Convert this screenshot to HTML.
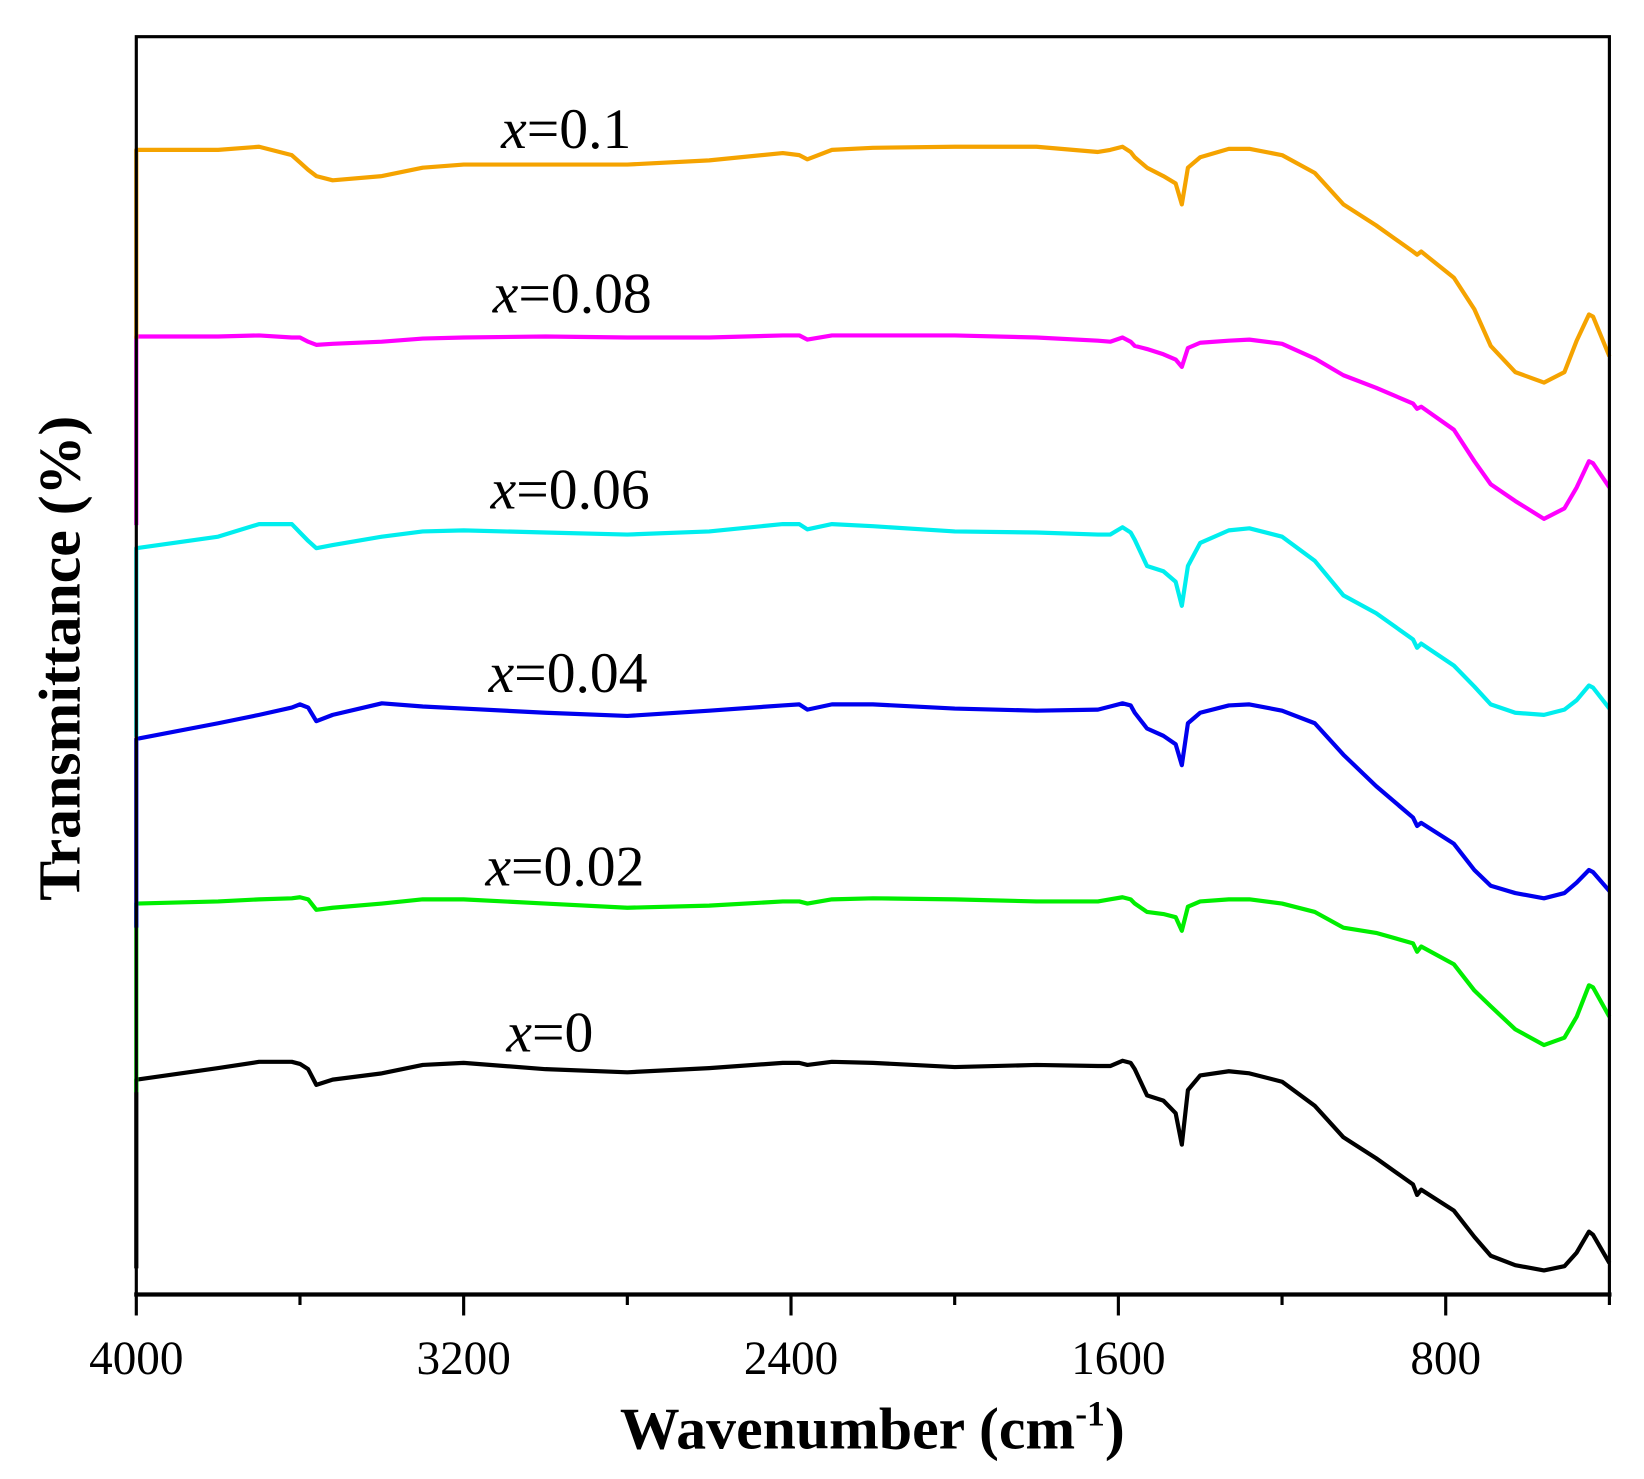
<!DOCTYPE html>
<html><head><meta charset="utf-8"><style>
html,body{margin:0;padding:0;background:#fff;}
svg{display:block;}
text{font-family:"Liberation Serif",serif;}
</style></head>
<body>
<svg id="chart" width="1644" height="1479" viewBox="0 0 1568 1411" preserveAspectRatio="none" xmlns="http://www.w3.org/2000/svg">
<g id="series"></g>
<g id="labels"></g>
<rect x="130" y="35" width="1405" height="1200" fill="none" stroke="#000" stroke-width="3"/>
<line x1="128" y1="1235" x2="1537" y2="1235" stroke="#000" stroke-width="4"/>
<g id="xticks"></g>
<text x="832" y="1382" text-anchor="middle" font-size="57" font-weight="bold">Wavenumber (cm<tspan font-size="34" dy="-22">-1</tspan><tspan dy="22">)</tspan></text>
<text transform="translate(76,628) rotate(-90)" text-anchor="middle" font-size="57" font-weight="bold">Transmittance (%)</text>
</svg>
<script>
const wavenumbers = [4000,3800,3700,3620,3600,3580,3560,3520,3400,3300,3200,3000,2800,2600,2420,2380,2360,2300,2200,2000,1800,1650,1620,1590,1570,1560,1530,1490,1460,1445,1430,1400,1330,1280,1200,1120,1050,970,880,870,860,780,730,690,630,560,510,480,450,440,400];
const seriesX0 = [205,216,222,222,220,215,200,205,211,219,221,215,212,216,221,221,219,222,221,217,219,218,218,223,221,215,190,185,173,143,195,209,213,211,203,180,150,130,105,95,100,80,55,37,28,23,27,40,60,57,30];
const seriesX002 = [373,375,377,378,379,377,367,369,373,377,377,373,369,371,375,375,373,377,378,377,375,375,377,379,377,373,365,363,360,347,370,375,377,377,373,365,350,345,335,327,332,315,290,275,253,238,245,265,295,293,265];
const seriesX004 = [530,545,553,560,563,560,547,553,564,561,559,555,552,557,562,563,558,563,563,559,557,558,561,564,562,555,540,533,525,505,545,555,562,563,557,545,515,485,455,447,450,430,405,390,383,378,383,393,405,403,385];
const seriesX006 = [712,723,735,735,727,719,712,715,723,728,729,727,725,728,735,735,730,735,733,728,727,725,725,732,727,720,695,690,680,657,695,717,729,731,723,700,667,650,625,617,621,600,580,563,555,553,558,567,581,579,559];
const seriesX008 = [914,914,915,913,913,909,906,907,909,912,913,914,913,913,915,915,911,915,915,915,913,910,909,913,909,905,902,897,892,885,903,908,910,911,907,893,877,865,850,845,847,825,795,773,757,740,750,770,795,793,770];
const seriesX01 = [1092,1092,1095,1087,1080,1073,1067,1063,1067,1075,1078,1078,1078,1082,1089,1087,1083,1092,1094,1095,1095,1090,1092,1095,1090,1085,1075,1067,1060,1040,1075,1085,1093,1093,1087,1070,1040,1020,995,992,995,970,940,905,880,870,880,910,935,933,895];
const seriesNames = ["x0","x002","x004","x006","x008","x01"];
const seriesLabels = ["0","0.02","0.04","0.06","0.08","0.1"];
const xTickValues = [4000,3600,3200,2800,2400,2000,1600,1200,800,400];
const xTickLabels = ["4000","","3200","","2400","","1600","","800",""];

const colors = ["#000000","#00ee00","#0000ee","#00eeee","#ff00ff","#f5a300"];
const labelPos = [[483,1003],[463,845],[466,660],[468,485],[470,298],[478,141]];
const X0=130,X1=1535,Y0=35,Y1=1235;
const xScale = w => X0 + (4000-w)/(4000-400)*(X1-X0);
const yScale = v => Y1 - v/1200*(Y1-Y0);
const NS="http://www.w3.org/2000/svg";
const allSeries=[seriesX0,seriesX002,seriesX004,seriesX006,seriesX008,seriesX01];
const sg=document.getElementById('series');
allSeries.forEach((vals,i)=>{
  const p=document.createElementNS(NS,'path');
  let d='M'+X0+','+(yScale(vals[0])+180).toFixed(1)+' ';
  d+=vals.map((v,j)=>'L'+xScale(wavenumbers[j]).toFixed(1)+','+yScale(v).toFixed(1)).join(' ');
  p.setAttribute('d', d);
  p.setAttribute('fill','none');p.setAttribute('stroke',colors[i]);p.setAttribute('stroke-width','4');p.setAttribute('stroke-linejoin','round');
  
  
  sg.appendChild(p);
});
const lg=document.getElementById('labels');
seriesLabels.forEach((s,i)=>{
  const t=document.createElementNS(NS,'text');
  t.setAttribute('x',labelPos[i][0]);t.setAttribute('y',labelPos[i][1]);t.setAttribute('font-size','55');
  t.innerHTML='<tspan font-style="italic">x</tspan>='+s;
  
  
  lg.appendChild(t);
});
const tg=document.getElementById('xticks');
xTickValues.forEach((w,i)=>{
  const x=xScale(w);
  const len=(i%2===0)?20:10;
  const l=document.createElementNS(NS,'line');
  l.setAttribute('x1',x);l.setAttribute('x2',x);l.setAttribute('y1',1235);l.setAttribute('y2',1235+len);
  l.setAttribute('stroke','#000');l.setAttribute('stroke-width','3');
  
  
  tg.appendChild(l);
  if(xTickLabels[i]){
    const t=document.createElementNS(NS,'text');
    t.setAttribute('x',x);t.setAttribute('y',1311);t.setAttribute('text-anchor','middle');t.setAttribute('font-size','45');
    t.textContent=xTickLabels[i];
    
    
    tg.appendChild(t);
  }
});
</script>
</body></html>
